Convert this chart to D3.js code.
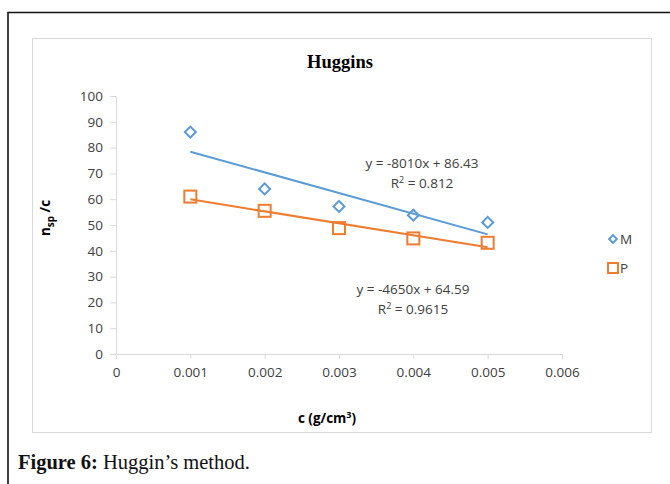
<!DOCTYPE html>
<html>
<head>
<meta charset="utf-8">
<script src="https://cdn.jsdelivr.net/npm/d3@7"></script>
<style>
  html, body { margin: 0; padding: 0; background: #fff; }
  svg { display: block; }
</style>
</head>
<body>
<svg id="chart" width="670" height="484"></svg>
<script>
// Concentration values (g/cm3)
const concentrations = [0.001, 0.002, 0.003, 0.004, 0.005];
// Reduced viscosity for each sample
const seriesM = [86, 64, 57.2, 53.8, 51];
const seriesP = [61, 55.5, 48.8, 44.8, 43.1];
const seriesNames = ["M", "P"];
// Linear trendline coefficients and R² shown on the chart
const slopes = [-8010, -4650];
const intercepts = [86.43, 64.59];
const rSquared = ["0.812", "0.9615"];
const xTicks = [0, 0.001, 0.002, 0.003, 0.004, 0.005, 0.006];
const yTicks = [0, 10, 20, 30, 40, 50, 60, 70, 80, 90, 100];

const colors = ["#5b9bd5", "#ed7d31"];
const svg = d3.select("#chart");

// Page frame: black rule along the top and left
svg.append("path").attr("d", "M8,484 V12.5 H670")
  .attr("fill", "none").attr("stroke", "#111").attr("stroke-width", 1.6);

// Chart area border
svg.append("rect").attr("x", 32.5).attr("y", 38.5).attr("width", 619).attr("height", 394)
  .attr("fill", "#fff").attr("stroke", "#d9d9d9").attr("stroke-width", 1);

const x = d3.scaleLinear().domain([0, 0.006]).range([116, 562]);
const y = d3.scaleLinear().domain([0, 100]).range([354, 96]);

const font = "'Open Sans', Carlito, Calibri, sans-serif";
const fs = "13.5px";

// Axes
const xAxis = svg.append("g").attr("transform", `translate(0,${y(0)})`)
  .call(d3.axisBottom(x).tickValues(xTicks).tickFormat(d3.format("")).tickSize(5).tickPadding(8));
const yAxis = svg.append("g").attr("transform", `translate(${x(0)},0)`)
  .call(d3.axisLeft(y).tickValues(yTicks).tickSize(6).tickPadding(7));
[xAxis, yAxis].forEach(g => {
  g.select(".domain").attr("stroke", "#d9d9d9");
  g.selectAll(".tick line").attr("stroke", "#d9d9d9");
  g.selectAll(".tick text").attr("fill", "#404040")
    .style("font-family", font).style("font-size", fs);
});
xAxis.selectAll(".tick text").text(d => d === 0 ? "0" : d3.format(".3f")(d));

// Trendlines drawn from the fitted coefficients
const xMin = d3.min(concentrations), xMax = d3.max(concentrations);
slopes.forEach((m, i) => {
  const b = intercepts[i];
  svg.append("line")
    .attr("x1", x(xMin)).attr("y1", y(m * xMin + b))
    .attr("x2", x(xMax)).attr("y2", y(m * xMax + b))
    .attr("stroke", colors[i]).attr("stroke-width", 2);
});

// Markers
const diamond = d3.symbol().type(d3.symbolSquare).size(60);
svg.append("g").selectAll("path").data(seriesM).join("path")
  .attr("d", diamond)
  .attr("transform", (d, i) => `translate(${x(concentrations[i])},${y(d)}) rotate(45)`)
  .attr("fill", "none").attr("stroke", colors[0]).attr("stroke-width", 2);

svg.append("g").selectAll("rect").data(seriesP).join("rect")
  .attr("x", (d, i) => x(concentrations[i]) - 6).attr("y", d => y(d) - 6)
  .attr("width", 12).attr("height", 12)
  .attr("fill", "none").attr("stroke", colors[1]).attr("stroke-width", 2);

// Trendline equations
const eqPos = [[422, 163], [413, 289]];
slopes.forEach((m, i) => {
  const t = svg.append("text").attr("text-anchor", "middle")
    .attr("fill", "#404040").style("font-family", font).style("font-size", fs);
  t.append("tspan").attr("x", eqPos[i][0]).attr("y", eqPos[i][1] + 5)
    .text(`y = ${m}x + ${intercepts[i]}`);
  const r = t.append("tspan").attr("x", eqPos[i][0]).attr("y", eqPos[i][1] + 25);
  r.append("tspan").text("R");
  r.append("tspan").attr("dy", -5).style("font-size", "9px").text("2");
  r.append("tspan").attr("dy", 5).text(` = ${rSquared[i]}`);
});

// Title
svg.append("text").attr("x", 340).attr("y", 68).attr("text-anchor", "middle")
  .style("font-family", "'Liberation Serif', 'Times New Roman', serif")
  .style("font-weight", "bold").style("font-size", "18.5px").attr("fill", "#000")
  .text("Huggins");

// Axis titles
const yt = svg.append("text").attr("transform", "translate(50,218) rotate(-90)")
  .attr("text-anchor", "middle").style("font-family", font)
  .style("font-weight", "bold").style("font-size", "13.5px").attr("fill", "#000");
yt.append("tspan").text("n");
yt.append("tspan").attr("dy", 4).style("font-size", "10px").text("sp");
yt.append("tspan").attr("dy", -4).text(" /c");

const xt = svg.append("text").attr("x", 327).attr("y", 423)
  .attr("text-anchor", "middle").style("font-family", font)
  .style("font-weight", "bold").style("font-size", "13.5px").attr("fill", "#000");
xt.append("tspan").text("c (g/cm");
xt.append("tspan").attr("dy", -5).style("font-size", "9px").text("3");
xt.append("tspan").attr("dy", 5).text(")");

// Legend
const legend = svg.append("g");
legend.append("path").attr("d", d3.symbol().type(d3.symbolSquare).size(30))
  .attr("transform", "translate(613,239) rotate(45)")
  .attr("fill", "none").attr("stroke", colors[0]).attr("stroke-width", 2);
legend.append("rect").attr("x", 608).attr("y", 263).attr("width", 10).attr("height", 10)
  .attr("fill", "none").attr("stroke", colors[1]).attr("stroke-width", 2);
seriesNames.forEach((n, i) => {
  legend.append("text").attr("x", 620).attr("y", 244 + i * 29)
    .attr("fill", "#404040").style("font-family", font).style("font-size", fs).text(n);
});

// Caption
const cap = svg.append("text").attr("x", 18).attr("y", 469)
  .style("font-family", "'Liberation Serif', 'Times New Roman', serif")
  .style("font-size", "20.5px").attr("fill", "#111");
cap.append("tspan").style("font-weight", "bold").text("Figure 6:");
cap.append("tspan").text(" Huggin’s method.");
</script>
</body>
</html>
